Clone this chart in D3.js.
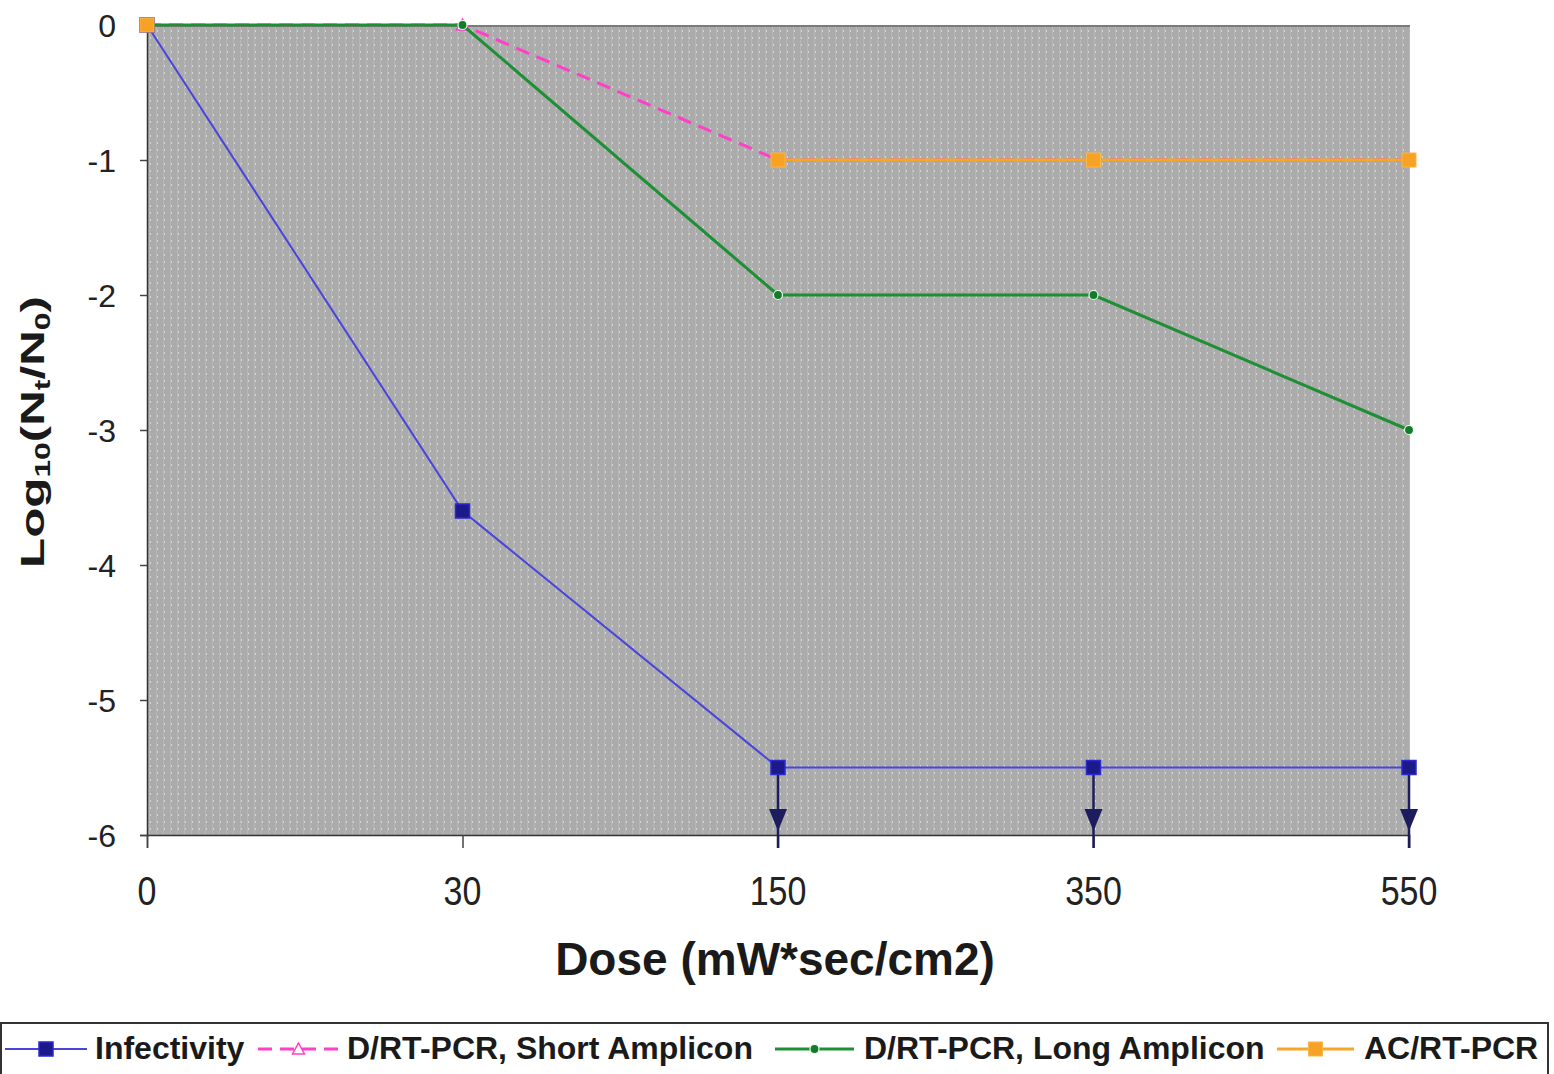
<!DOCTYPE html>
<html>
<head>
<meta charset="utf-8">
<script src="https://cdn.jsdelivr.net/npm/d3@7"></script>
<style>
  body { margin: 0; background: #fff; }
  svg { display: block; font-family: Arial, "Liberation Sans", sans-serif; }
</style>
</head>
<body>
<script>
// values
var doses = ["0", "30", "150", "350", "550"];
var infectivity = [0, -3.6, -5.5, -5.5, -5.5];
var shortAmplicon = [0, 0, -1, -1, -1];
var longAmplicon = [0, 0, -2, -2, -3];
var acRtPcr = [0, null, -1, -1, -1];
var belowLimit = [false, false, true, true, true]; // infectivity under detection limit
var yTicks = [0, -1, -2, -3, -4, -5, -6];
var legendNames = ["Infectivity", "D/RT-PCR, Short Amplicon", "D/RT-PCR, Long Amplicon", "AC/RT-PCR"];

const w = 1554,
    h = 1074;
const padL = 147, padR = 1409, padT = 25, padB = 835;

const svg = d3.select("body")
    .append("svg")
    .attr("width", w)
    .attr("height", h);

var xScale = d3.scalePoint()
    .domain(doses)
    .range([padL, padR])
    .padding(0);

var yScale = d3.scaleLinear()
    .domain([-6, 0])
    .range([padB, padT]);

// dotted grey plot background
var defs = svg.append("defs");
var pat = defs.append("pattern")
    .attr("id", "dots")
    .attr("patternUnits", "userSpaceOnUse")
    .attr("width", 7)
    .attr("height", 7);
pat.append("rect").attr("width", 7).attr("height", 7).attr("fill", "#aaabaa");
pat.append("rect").attr("x", 2).attr("y", 2).attr("width", 2).attr("height", 2).attr("fill", "#d4d5d4");
pat.append("rect").attr("x", 2).attr("y", 0).attr("width", 1).attr("height", 7).attr("fill", "#b6b7b6");

svg.append("rect")
    .attr("x", padL)
    .attr("y", padT)
    .attr("width", padR - padL + 1)
    .attr("height", padB - padT)
    .attr("fill", "url(#dots)");

svg.append("line")
    .attr("x1", padL).attr("x2", padR + 1)
    .attr("y1", padT + 1).attr("y2", padT + 1)
    .attr("stroke", "#6a6a6a").attr("stroke-width", 1.5);

// axes
var yAxis = d3.axisLeft(yScale).tickValues(yTicks).tickSize(7).tickFormat("");
svg.append("g")
    .attr("transform", "translate(" + padL + ",0)")
    .call(yAxis);

var xAxis = d3.axisBottom(xScale).tickSize(13).tickFormat("");
svg.append("g")
    .attr("transform", "translate(0," + padB + ")")
    .call(xAxis);

svg.selectAll(".domain").attr("stroke", "#333").attr("stroke-width", 1.5);
svg.selectAll(".tick line").attr("stroke", "#444").attr("stroke-width", 1.5);

svg.selectAll(".ylab")
    .data(yTicks)
    .enter()
    .append("text")
    .attr("x", 116)
    .attr("y", (d) => yScale(d))
    .attr("dy", "0.36em")
    .attr("text-anchor", "end")
    .attr("font-size", 32)
    .attr("fill", "#222")
    .text((d) => d);

svg.selectAll(".xlab")
    .data(doses)
    .enter()
    .append("text")
    .attr("transform", (d) => "translate(" + xScale(d) + ",905) scale(1,1.2)")
    .attr("text-anchor", "middle")
    .attr("font-size", 34)
    .attr("fill", "#222")
    .text((d) => d);

svg.append("text")
    .attr("x", 775)
    .attr("y", 975)
    .attr("text-anchor", "middle")
    .attr("font-size", 46)
    .attr("font-weight", "bold")
    .attr("fill", "#1a1a1a")
    .text("Dose (mW*sec/cm2)");

var yt = svg.append("text")
    .attr("transform", "translate(44,432) rotate(-90) scale(1.45,1)")
    .attr("text-anchor", "middle")
    .attr("font-size", 34)
    .attr("font-weight", "bold")
    .attr("fill", "#1a1a1a");
yt.append("tspan").text("Log");
yt.append("tspan").attr("font-size", 22).attr("dy", 6).text("10");
yt.append("tspan").attr("dy", -6).text("(N");
yt.append("tspan").attr("font-size", 22).attr("dy", 6).text("t");
yt.append("tspan").attr("dy", -6).text("/N");
yt.append("tspan").attr("font-size", 22).attr("dy", 6).text("0");
yt.append("tspan").attr("dy", -6).text(")");

// series
var line = d3.line()
    .defined((d) => d[1] !== null)
    .x((d) => xScale(d[0]))
    .y((d) => yScale(d[1]));

function pairs(vals) {
    return doses.map((d, i) => [d, vals[i]]);
}

var series = [
    { vals: infectivity, color: "#4a44dd", width: 2, dash: null },
    { vals: shortAmplicon, color: "#ff3fc8", width: 3, dash: "14,8" },
    { vals: longAmplicon, color: "#1f8f35", width: 3, dash: null },
    { vals: acRtPcr, color: "#f6a72a", width: 3, dash: null }
];

function drawMarker(g, k, x, y) {
    if (k === 0) {
        g.append("rect").attr("x", x - 7).attr("y", y - 7).attr("width", 14).attr("height", 14)
            .attr("fill", "#1c1a8a").attr("stroke", "#2a2ad0").attr("stroke-width", 1.5);
    } else if (k === 1) {
        g.append("path").attr("d", "M" + x + "," + (y - 6) + "L" + (x + 6) + "," + (y + 5) + "L" + (x - 6) + "," + (y + 5) + "Z")
            .attr("fill", "#fff").attr("stroke", "#ff3fc8").attr("stroke-width", 1.5);
    } else if (k === 2) {
        g.append("circle").attr("cx", x).attr("cy", y).attr("r", 4.5)
            .attr("fill", "#167a2c").attr("stroke", "#e8ffe8").attr("stroke-width", 1.2);
    } else {
        g.append("rect").attr("x", x - 7).attr("y", y - 7).attr("width", 14).attr("height", 14)
            .attr("fill", "#f7a224").attr("stroke", "#f9b64a").attr("stroke-width", 1);
    }
}

series.forEach(function (s, k) {
    var g = svg.append("g");
    g.append("path")
        .datum(pairs(s.vals))
        .attr("fill", "none")
        .attr("stroke", s.color)
        .attr("stroke-width", s.width)
        .attr("stroke-dasharray", s.dash)
        .attr("d", line);

    if (k === 0) {
        // detection-limit arrows
        doses.forEach(function (d, i) {
            if (!belowLimit[i]) return;
            var x = xScale(d);
            g.append("line")
                .attr("x1", x).attr("x2", x)
                .attr("y1", yScale(infectivity[i]) + 7).attr("y2", yScale(-6) + 13)
                .attr("stroke", "#1d1d5e").attr("stroke-width", 2.5);
            var tip = yScale(-6) - 4;
            g.append("path")
                .attr("d", "M" + (x - 9) + "," + (tip - 22) + "L" + (x + 9) + "," + (tip - 22) + "L" + x + "," + tip + "Z")
                .attr("fill", "#1d1d5e");
        });
    }

    doses.forEach(function (d, i) {
        if (s.vals[i] === null) return;
        drawMarker(g, k, xScale(d), yScale(s.vals[i]));
    });
});

// legend
var leg = svg.append("g");
leg.append("rect")
    .attr("x", 1).attr("y", 1023)
    .attr("width", 1547).attr("height", 70)
    .attr("fill", "#fff")
    .attr("stroke", "#333").attr("stroke-width", 2);

var legPos = [
    { x1: 5, x2: 87, text: 95 },
    { x1: 258, x2: 339, text: 347 },
    { x1: 775, x2: 854, text: 864 },
    { x1: 1277, x2: 1354, text: 1364 }
];

legendNames.forEach(function (name, k) {
    var p = legPos[k], s = series[k];
    leg.append("line")
        .attr("x1", p.x1).attr("x2", p.x2)
        .attr("y1", 1049).attr("y2", 1049)
        .attr("stroke", s.color)
        .attr("stroke-width", s.width)
        .attr("stroke-dasharray", s.dash);
    drawMarker(leg, k, (p.x1 + p.x2) / 2, 1049);
    leg.append("text")
        .attr("x", p.text)
        .attr("y", 1059)
        .attr("font-size", 32)
        .attr("font-weight", "bold")
        .attr("fill", "#1a1a1a")
        .text(name);
});
</script>
</body>
</html>
